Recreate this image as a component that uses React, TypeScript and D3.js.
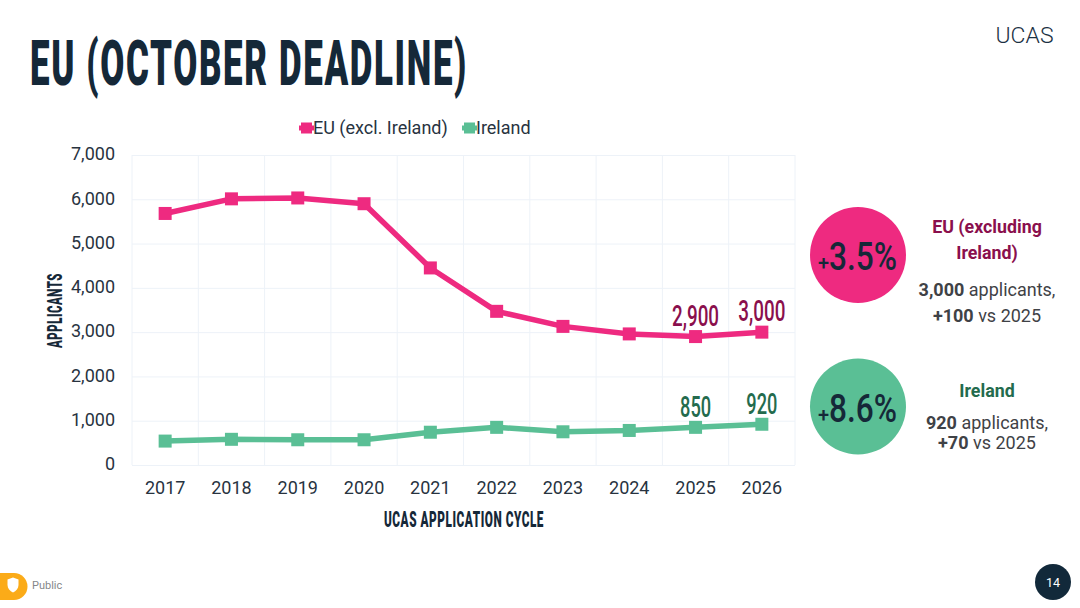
import React, { useEffect, useRef } from "react";
import * as d3 from "d3";

const years = ["2017", "2018", "2019", "2020", "2021", "2022", "2023", "2024", "2025", "2026"];
const euValues = [5680, 6010, 6030, 5900, 4450, 3470, 3130, 2960, 2900, 3000];
const irelandValues = [540, 580, 570, 570, 740, 850, 750, 780, 850, 920];
const yTicks = [0, 1000, 2000, 3000, 4000, 5000, 6000, 7000];
const euLabelled = ["2025", "2026"];
const irelandLabelled = ["2025", "2026"];

const PINK = "#ee2a80";
const GREEN = "#5abf95";
const DARK = "#152838";
const GRID = "#edf2f8";
const WINE = "#8a0f4d";
const PINE = "#246b4d";
const GREY = "#3f4246";

const BODY = "Roboto, sans-serif";

export default function App() {
  const ref = useRef<SVGSVGElement>(null);

  useEffect(() => {
    const svg = d3.select(ref.current);
    svg.selectAll("*").remove();

    const left = 132, right = 795, top = 155, bottom = 465;
    const x = d3.scaleBand().domain(years).range([left, right]);
    const y = d3.scaleLinear().domain([0, 7000]).range([bottom, top]);
    const cx = (d: string) => x(d)! + x.bandwidth() / 2;

    // squeezed text, stands in for the condensed brand face
    const squeezed = (
      s: string, px: number, py: number, size: number, len: number,
      fill: string, weight = 400, anchor = "middle", spacing = 0
    ) =>
      svg.append("text")
        .attr("x", px).attr("y", py)
        .attr("font-family", BODY)
        .attr("font-size", size)
        .attr("font-weight", weight)
        .attr("letter-spacing", spacing)
        .attr("fill", fill)
        .attr("text-anchor", anchor)
        .attr("textLength", len)
        .attr("lengthAdjust", "spacingAndGlyphs")
        .text(s);

    const plain = (
      s: string, px: number, py: number, size: number, fill: string,
      weight = 400, anchor = "middle"
    ) =>
      svg.append("text")
        .attr("x", px).attr("y", py)
        .attr("font-family", BODY)
        .attr("font-size", size)
        .attr("font-weight", weight)
        .attr("fill", fill)
        .attr("text-anchor", anchor)
        .text(s);

    squeezed("EU (OCTOBER DEADLINE)", 30, 85, 63, 438, DARK, 900, "start", 3);
    plain("UCAS", 1024.5, 43, 22.5, "#1b3144", 300).attr("textLength", 58).attr("lengthAdjust", "spacingAndGlyphs");

    // grid
    const yAxis = d3.axisLeft(y).tickValues(yTicks).tickSize(left - right).tickPadding(17)
      .tickFormat(d3.format(",") as any);
    const gy = svg.append("g").attr("transform", `translate(${left},0)`).call(yAxis);
    gy.select(".domain").remove();
    gy.selectAll("line").attr("stroke", GRID);
    gy.selectAll("text").attr("font-family", BODY).attr("font-size", 18).attr("fill", "#28333f").attr("y", -1);

    svg.append("g").selectAll("line")
      .data([left, ...years.map((d) => x(d)! + x.bandwidth())])
      .enter().append("line")
      .attr("x1", (d) => d).attr("x2", (d) => d)
      .attr("y1", top).attr("y2", bottom)
      .attr("stroke", GRID);

    const xAxis = d3.axisBottom(x).tickSize(0).tickPadding(16);
    const gx = svg.append("g").attr("transform", `translate(0,${bottom})`).call(xAxis);
    gx.select(".domain").remove();
    gx.selectAll("text").attr("font-family", BODY).attr("font-size", 18).attr("fill", "#28333f");

    squeezed("UCAS APPLICATION CYCLE", 464, 527, 22, 160, DARK, 900, "middle", 1);
    squeezed("APPLICANTS", 0, 0, 21, 75, DARK, 900, "middle", 1)
      .attr("transform", "translate(62,310.5) rotate(-90)");

    // series
    const line = d3.line<number>().x((_, i) => cx(years[i])).y((d) => y(d));
    const drawSeries = (vals: number[], color: string) => {
      svg.append("path").datum(vals)
        .attr("d", line).attr("fill", "none")
        .attr("stroke", color).attr("stroke-width", 5.5).attr("stroke-linejoin", "round");
      svg.append("g").selectAll("rect").data(vals).enter().append("rect")
        .attr("x", (_, i) => cx(years[i]) - 6.5)
        .attr("y", (d) => y(d) - 6.5)
        .attr("width", 13).attr("height", 13)
        .attr("fill", color);
    };
    drawSeries(euValues, PINK);
    drawSeries(irelandValues, GREEN);

    euLabelled.forEach((yr) => {
      const v = euValues[years.indexOf(yr)];
      squeezed(d3.format(",")(v), cx(yr), y(v) - 11, 29, 47, WINE, 500);
    });
    irelandLabelled.forEach((yr) => {
      const v = irelandValues[years.indexOf(yr)];
      squeezed(d3.format(",")(v), cx(yr), y(v) - 10.5, 29, 31, PINE, 500);
    });

    // legend
    const legend = [
      { name: "EU (excl. Ireland)", color: PINK, mark: 306.5, text: 313 },
      { name: "Ireland", color: GREEN, mark: 469.5, text: 476 },
    ];
    legend.forEach((l) => {
      svg.append("line")
        .attr("x1", l.mark - 7.5).attr("x2", l.mark + 7.5)
        .attr("y1", 128).attr("y2", 128)
        .attr("stroke", l.color).attr("stroke-width", 5);
      svg.append("rect")
        .attr("x", l.mark - 5.5).attr("y", 122.5)
        .attr("width", 11).attr("height", 11)
        .attr("fill", l.color);
      plain(l.name, l.text, 134, 18, "#28333f", 400, "start");
    });

    // callouts
    const callout = (cy: number, color: string, label: string) => {
      svg.append("circle").attr("cx", 858).attr("cy", cy).attr("r", 48).attr("fill", color);
      const t = svg.append("text")
        .attr("x", 818).attr("y", cy + 15)
        .attr("font-family", BODY).attr("fill", DARK).attr("font-weight", 500);
      t.append("tspan").attr("font-size", 20).text(label.slice(0, 1));
      t.append("tspan").attr("font-size", 38)
        .attr("textLength", 68).attr("lengthAdjust", "spacingAndGlyphs")
        .text(label.slice(1));
    };
    callout(255, PINK, "+3.5%");
    callout(406.5, GREEN, "+8.6%");

    plain("EU (excluding", 987, 233, 17.8, WINE, 700);
    plain("Ireland)", 987, 259, 17.8, WINE, 700);
    plain("Ireland", 987, 397, 17.8, PINE, 700);

    const mixed = (strong: string, rest: string, py: number) => {
      const t = plain("", 987, py, 18, GREY);
      t.append("tspan").attr("font-weight", 700).text(strong);
      t.append("tspan").text(rest);
    };
    mixed("3,000", " applicants,", 296);
    mixed("+100", " vs 2025", 322);
    mixed("920", " applicants,", 429);
    mixed("+70", " vs 2025", 449);

    // footer
    svg.append("path")
      .attr("d", "M0,573H14A13.5,13.5 0 0 1 14,600H0Z")
      .attr("fill", "#fbab18");
    svg.append("path")
      .attr("d", "M13,577.5l5.5,2v5.5c0,3.5-2.5,6-5.5,7.5c-3-1.5-5.5-4-5.5-7.5v-5.5Z")
      .attr("fill", "#fff");
    plain("Public", 32, 589, 11, "#85878a", 400, "start");

    svg.append("circle").attr("cx", 1053).attr("cy", 582).attr("r", 18).attr("fill", "#12293a");
    plain("14", 1053, 586.5, 12.5, "#fff");
  }, []);

  return (
    <svg
      ref={ref}
      width={1080}
      height={608}
      style={{ position: "absolute", left: 0, top: 0, background: "#fff" }}
    />
  );
}
